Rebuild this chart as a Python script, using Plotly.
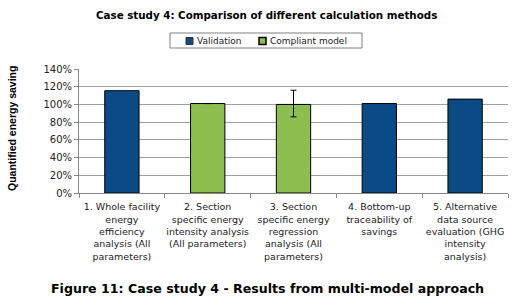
import plotly.graph_objects as go

categories = [
    "1. Whole facility<br>energy<br>efficiency<br>analysis (All<br>parameters)",
    "2. Section<br>specific energy<br>intensity analysis<br>(All parameters)",
    "3. Section<br>specific energy<br>regression<br>analysis (All<br>parameters)",
    "4. Bottom-up<br>traceability of<br>savings",
    "5. Alternative<br>data source<br>evaluation (GHG<br>intensity<br>analysis)",
]
validation = [1.155, None, None, 1.01, 1.06]
compliant = [None, 1.01, 1.0, None, None]
err_plus = [0, 0, 0.16, 0, 0]
err_minus = [0, 0, 0.14, 0, 0]
y_ticks = [0, 0.2, 0.4, 0.6, 0.8, 1.0, 1.2, 1.4]
series_names = ["Validation", "Compliant model"]

FONT = "DejaVu Sans"
BLUE, GREEN = "#0B4A85", "#8DBE4F"
L, R, T, B = 79, 10, 69, 110
W, H = 518, 303
PW, PH = W - L - R, H - T - B


def px_x(x):
    return (x - L) / PW


def px_y(y):
    return (H - B - y) / PH


fig = go.Figure()
fig.add_trace(go.Bar(
    x=categories, y=validation, name=series_names[0], showlegend=False,
    marker=dict(color=BLUE, line=dict(color="#000000", width=1)),
))
fig.add_trace(go.Bar(
    x=categories, y=compliant, name=series_names[1], showlegend=False,
    marker=dict(color=GREEN, line=dict(color="#000000", width=1)),
    error_y=dict(type="data", symmetric=False, array=err_plus, arrayminus=err_minus,
                 color="#000000", thickness=1, width=3),
))

# legend box drawn manually (compact like the reference)
shapes = [
    dict(type="rect", xref="paper", yref="paper",
         x0=px_x(170), x1=px_x(362), y0=px_y(48), y1=px_y(33),
         line=dict(color="#808080", width=1), fillcolor="white"),
    dict(type="rect", xref="paper", yref="paper",
         x0=px_x(186), x1=px_x(193), y0=px_y(44.5), y1=px_y(37.5),
         line=dict(color="#333333", width=1), fillcolor=BLUE),
    dict(type="rect", xref="paper", yref="paper",
         x0=px_x(259), x1=px_x(266), y0=px_y(44.5), y1=px_y(37.5),
         line=dict(color="#000000", width=1.5), fillcolor=GREEN),
]

annotations = [
    dict(text="<b>Case study 4: Comparison of different calculation methods</b>",
         x=px_x(266), xref="paper", xanchor="center",
         y=px_y(15), yref="paper", yanchor="middle",
         showarrow=False, font=dict(size=10.3, family=FONT, color="#000000")),
    dict(text="<b>Figure 11: Case study 4 - Results from multi-model approach</b>",
         x=px_x(267), xref="paper", xanchor="center",
         y=px_y(288), yref="paper", yanchor="middle",
         showarrow=False, font=dict(size=12.6, family=FONT, color="#000000")),
    dict(text="<b>Quantified energy saving</b>", textangle=-90,
         x=px_x(12), xref="paper", xanchor="center",
         y=px_y(129), yref="paper", yanchor="middle",
         showarrow=False, font=dict(size=10.5, family="Liberation Sans", color="#000000")),
    dict(text=series_names[0], x=px_x(195), xref="paper", xanchor="left",
         y=px_y(40.5), yref="paper", yanchor="middle", showarrow=False,
         font=dict(size=9, family=FONT, color="#222222")),
    dict(text=series_names[1], x=px_x(268), xref="paper", xanchor="left",
         y=px_y(40.5), yref="paper", yanchor="middle", showarrow=False,
         font=dict(size=9, family=FONT, color="#222222")),
]

fig.update_layout(
    width=W, height=H,
    margin=dict(l=L, r=R, t=T, b=B, autoexpand=False),
    barmode="overlay", bargap=0.6,
    paper_bgcolor="white", plot_bgcolor="white",
    font=dict(family=FONT, size=10, color="#222222"),
    showlegend=False,
    xaxis=dict(showline=True, linecolor="#888888", ticks="outside",
               tickson="boundaries", ticklen=4, tickcolor="#888888",
               tickfont=dict(size=9.5, family=FONT), tickangle=0,
               ticklabelstandoff=5, automargin=False),
    yaxis=dict(range=[0, 1.4], tickvals=y_ticks, tickformat=".0%",
               showgrid=True, gridcolor="#A0A0A0", gridwidth=1,
               showline=True, linecolor="#888888", ticks="outside", ticklen=4,
               tickcolor="#888888", tickfont=dict(size=10, family=FONT),
               automargin=False),
    shapes=shapes,
    annotations=annotations,
)
fig.write_html("out.html", config={"displayModeBar": False},
               post_script="document.body.style.margin='0';document.body.style.padding='0';")
